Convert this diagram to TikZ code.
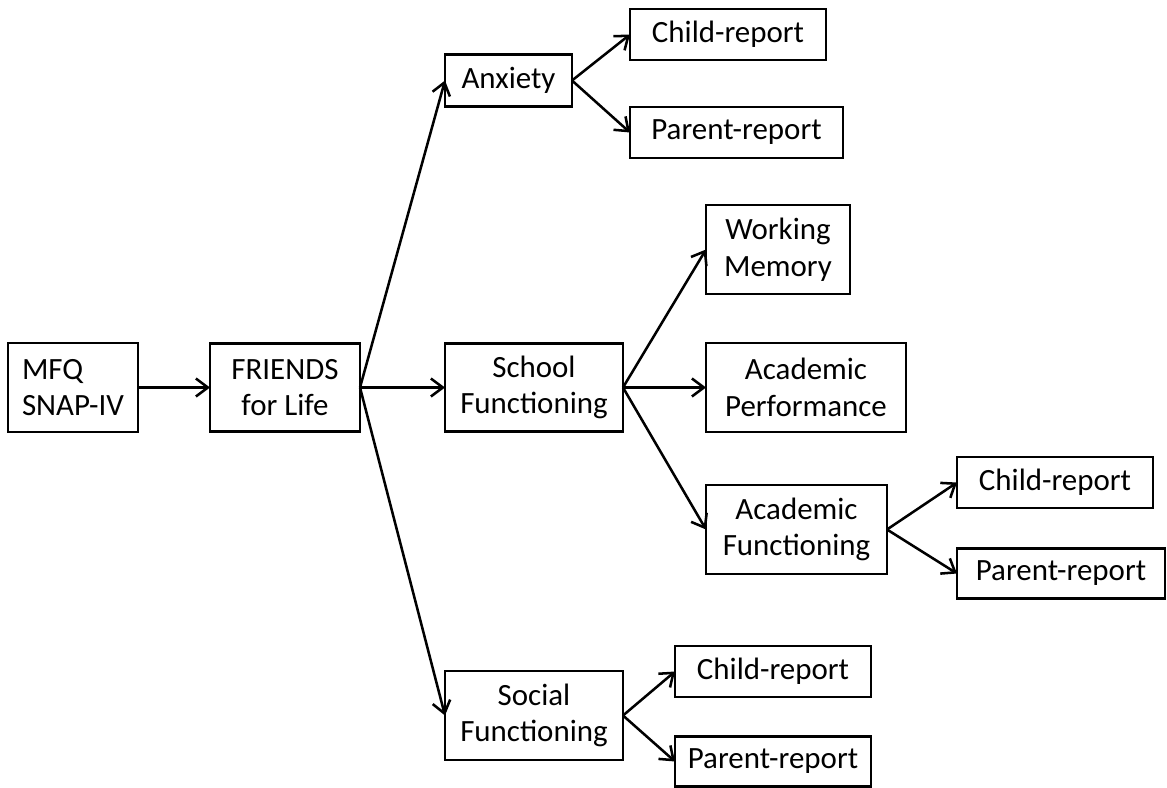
\documentclass[tikz,border=0pt]{standalone}
\usepackage{fontspec}
\setmainfont{Carlito}
\usepackage{tikz}
\usetikzlibrary{positioning,arrows.meta}

\begin{document}
\begin{tikzpicture}[
    measurebox/.style={rectangle, draw=black, line width=2pt, inner sep=0pt, outer sep=0pt,
      align=center, font=\fontsize{22}{26}\selectfont},
    flowarrow/.style={-{Straight Barb[length=3mm,width=4.5mm,line width=1.8pt]}, line width=1.8pt}]

  \useasboundingbox (-1.825,-9.9875) rectangle (27.35,9.6875);

  % Define nodes
  \node[measurebox, align=left, minimum width=3.25cm, minimum height=2.225cm]  (mfq) {MFQ\\SNAP-IV};
  \node[measurebox, right=1.8cm of mfq, minimum width=3.75cm, minimum height=2.2cm]  (friends) {FRIENDS\\for Life};

  % outcomes
  \node[measurebox, right=2.125cm of friends, yshift=7.675cm, minimum width=3.175cm, minimum height=1.3cm]  (anx) {Anxiety};
  \node[measurebox, right=2.125cm of friends, minimum width=4.45cm, minimum height=2.2cm]  (school) {School\\Functioning};
  \node[measurebox, right=2.125cm of friends, yshift=-8.2cm, minimum width=4.45cm, minimum height=2.225cm]  (social) {Social\\Functioning};

  % anxiety reports
  \node[measurebox, right=1.45cm of anx, yshift=1.15cm, minimum width=4.9cm, minimum height=1.275cm]  (anxchild) {Child-report};
  \node[measurebox, right=1.45cm of anx, yshift=-1.3cm, minimum width=5.325cm, minimum height=1.275cm]  (anxparent) {Parent-report};

  % school functioning
  \node[measurebox, right=2.075cm of school, yshift=3.45cm, minimum width=3.6cm, minimum height=2.225cm]  (wm) {Working\\Memory};
  \node[measurebox, right=2.075cm of school, minimum width=5cm, minimum height=2.225cm]  (perf) {Academic\\Performance};
  \node[measurebox, right=2.075cm of school, yshift=-3.55cm, minimum width=4.525cm, minimum height=2.225cm]  (acad) {Academic\\Functioning};

  \node[measurebox, right=1.75cm of acad, yshift=1.175cm, minimum width=4.9cm, minimum height=1.275cm]  (acadchild) {Child-report};
  \node[measurebox, right=1.75cm of acad, yshift=-1.1cm, minimum width=5.2cm, minimum height=1.25cm]  (acadparent) {Parent-report};

  % social reports
  \node[measurebox, right=1.3cm of social, yshift=1.1cm, minimum width=4.9cm, minimum height=1.275cm]  (socchild) {Child-report};
  \node[measurebox, right=1.3cm of social, yshift=-1.15cm, minimum width=4.9cm, minimum height=1.25cm]  (socparent) {Parent-report};

  % connectors
  \draw [flowarrow] (mfq) -- (friends);
  \draw [flowarrow] (friends.east) -- (anx.west);
  \draw [flowarrow] (friends.east) -- (school.west);
  \draw [flowarrow] (friends.east) -- (social.west);

  \draw [flowarrow] (anx.east) -- (anxchild.west);
  \draw [flowarrow] (anx.east) -- (anxparent.west);

  \draw [flowarrow] (school.east) -- (wm.west);
  \draw [flowarrow] (school.east) -- (perf.west);
  \draw [flowarrow] (school.east) -- (acad.west);

  \draw [flowarrow] (acad.east) -- (acadchild.west);
  \draw [flowarrow] (acad.east) -- (acadparent.west);

  \draw [flowarrow] (social.east) -- (socchild.west);
  \draw [flowarrow] (social.east) -- (socparent.west);

\end{tikzpicture}
\end{document}
